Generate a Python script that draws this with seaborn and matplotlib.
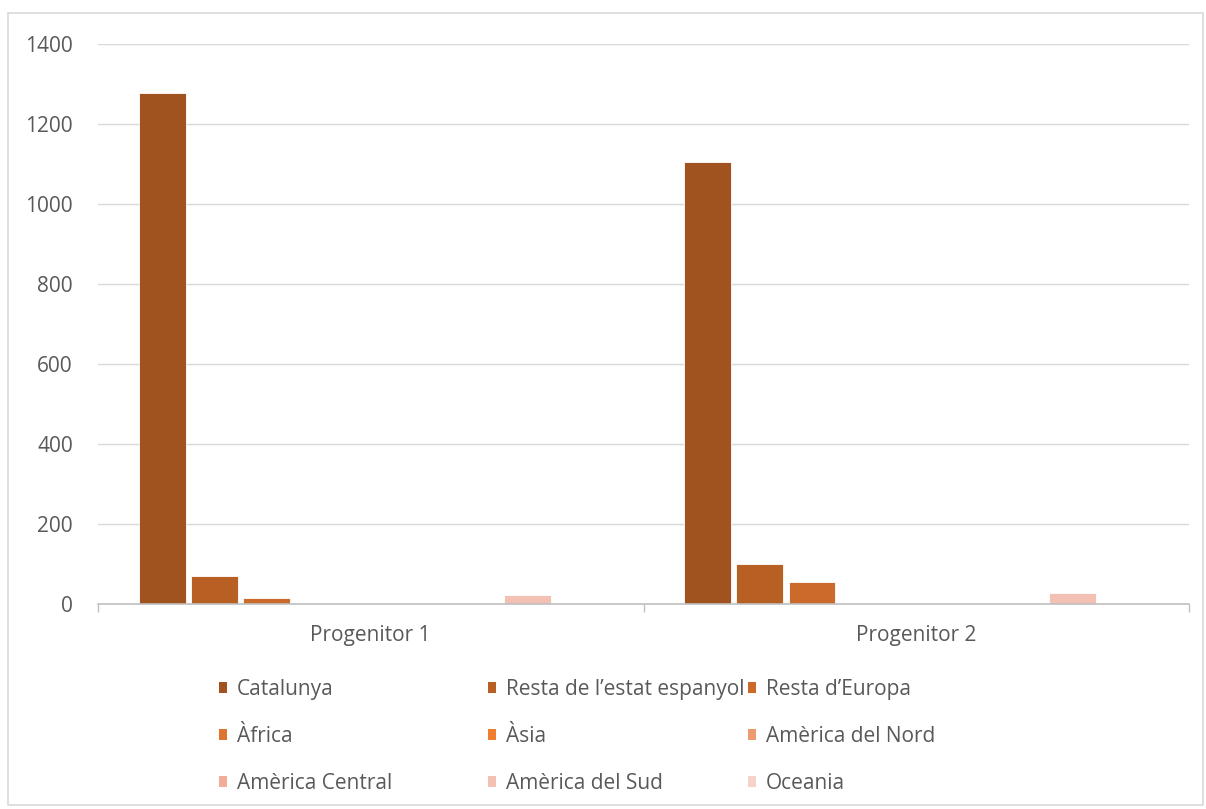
import matplotlib
matplotlib.use("Agg")
import matplotlib.pyplot as plt
import seaborn as sns
import pandas as pd
from matplotlib.patches import Rectangle, Patch

groups = ["Progenitor 1", "Progenitor 2"]
series = ["Catalunya", "Resta de l\u2019estat espanyol", "Resta d\u2019Europa", "\u00c0frica", "\u00c0sia",
          "Am\u00e8rica del Nord", "Am\u00e8rica Central", "Am\u00e8rica del Sud", "Oceania"]
vals_p1 = [1277, 69, 16, 0, 0, 0, 0, 22, 0]
vals_p2 = [1104, 101, 54, 0, 0, 0, 0, 28, 0]
colors = ["#A0531F", "#B86024", "#CB6A2B", "#DE752E", "#EF7E30", "#EC9A6F", "#F0AD97", "#F3C1B3", "#F6D3CA"]
yticks = [0, 200, 400, 600, 800, 1000, 1200, 1400]

rows = []
for g, vals in zip(groups, [vals_p1, vals_p2]):
    for s, v in zip(series, vals):
        rows.append({"group": g, "series": s, "value": v})
df = pd.DataFrame(rows)

sns.set_theme(style="white")
plt.rcParams['font.family'] = ['Open Sans', 'DejaVu Sans']
txt = "#595959"
fs = 15

fig = plt.figure(figsize=(12.06, 8.09), dpi=100)
ax = fig.add_axes([98/1206, 1-604/809, (1189-98)/1206, (604-44)/809])
sns.barplot(data=df, x="group", y="value", hue="series", order=groups, hue_order=series,
            palette=colors, width=0.86, gap=0.1, ax=ax, legend=False,
            edgecolor="#FFFFFF", linewidth=0.6, saturation=1)
ax.set_ylim(0, 1400)
ax.set_xlim(-0.5, 1.5)
ax.set_yticks(yticks)
ax.set_yticklabels([str(t) for t in yticks], color=txt, fontsize=fs)
ax.set_xticks([0, 1])
ax.set_xticklabels(groups, color=txt, fontsize=fs)
ax.set_xticks([-0.5, 0.5, 1.5], minor=True)
ax.tick_params(axis="x", which="major", length=0, pad=15)
ax.tick_params(axis="x", which="minor", length=6, color="#BFBFBF", width=1, bottom=True)
ax.tick_params(axis="y", length=0, pad=18)
ax.set_xlabel("")
ax.set_ylabel("")
for t in yticks[1:]:
    ax.axhline(t, color="#D9D9D9", lw=1, zorder=0)
for side in ["top", "right", "left"]:
    ax.spines[side].set_visible(False)
ax.spines["bottom"].set_color("#BFBFBF")
ax.spines["bottom"].set_linewidth(1.2)

# Outer chart border
fig.patches.append(Rectangle((8/1206, 1-805/809), (1203-8)/1206, (805-13)/809,
                             transform=fig.transFigure, fill=False, edgecolor="#D9D9D9", lw=1.2))

# Legend: three columns placed manually, row-major order
handles = [Patch(facecolor=c, edgecolor="none") for c in colors]
col_x = [219, 488, 748]
for ci, x0 in enumerate(col_x):
    idx = [ci, ci + 3, ci + 6]
    fig.legend([handles[i] for i in idx], [series[i] for i in idx],
               loc="upper left", bbox_to_anchor=(x0/1206, 1-679/809),
               frameon=False, fontsize=fs,
               handlelength=0.4, handleheight=0.4,
               handletextpad=0.45, labelspacing=1.25, borderpad=0, borderaxespad=0,
               labelcolor=txt)

fig.savefig("out.png", dpi=100)
